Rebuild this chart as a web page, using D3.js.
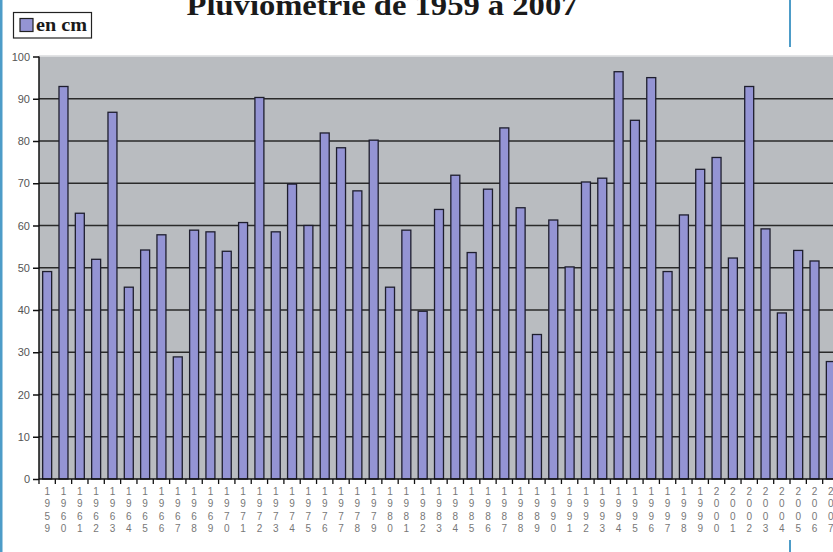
<!DOCTYPE html>
<html>
<head>
<meta charset="utf-8">
<script src="https://cdn.jsdelivr.net/npm/d3@7"></script>
<style>
body{margin:0;background:#fff;overflow:hidden}
</style>
</head>
<body>
<div id="svg"></div>
<script>
// data
var years=[1959,1960,1961,1962,1963,1964,1965,1966,1967,1968,1969,1970,1971,1972,1973,1974,1975,1976,1977,1978,1979,1980,1981,1982,1983,1984,1985,1986,1987,1988,1989,1990,1991,1992,1993,1994,1995,1996,1997,1998,1999,2000,2001,2002,2003,2004,2005,2006,2007];
var rain=[49.1,92.9,62.9,52.0,86.8,45.4,54.2,57.8,28.9,58.9,58.5,53.9,60.7,90.3,58.5,69.8,60.0,81.9,78.4,68.2,80.2,45.4,58.9,39.7,63.8,71.9,53.6,68.6,83.1,64.2,34.2,61.3,50.2,70.3,71.2,96.4,84.9,95.0,49.1,62.5,73.3,76.1,52.3,92.9,59.2,39.3,54.1,51.6,27.8];
var yTicks=[0,10,20,30,40,50,60,70,80,90,100];
var title="Pluviométrie de 1959 à 2007";
var legendLabel="en cm";

var width=833, height=552;
var svg=d3.select("#svg").append("svg").attr("width",width).attr("height",height);

var plot={left:39,right:839,top:56.5,bottom:479};

var x=d3.scaleBand().domain(years).range([plot.left,plot.right]).paddingInner(0.45).paddingOuter(0.225);
var y=d3.scaleLinear().domain([0,100]).range([plot.bottom,plot.top]);

// page border lines (blue)
svg.append("rect").attr("x",0).attr("y",0).attr("width",2.5).attr("height",height).attr("fill","#4d9cc8");
svg.append("line").attr("x1",790).attr("x2",790).attr("y1",0).attr("y2",47).attr("stroke","#4d9cc8").attr("stroke-width",2);
svg.append("line").attr("x1",790).attr("x2",790).attr("y1",540).attr("y2",height).attr("stroke","#4d9cc8").attr("stroke-width",2);

// plot background
svg.append("rect")
.attr("x",plot.left).attr("y",plot.top)
.attr("width",plot.right-plot.left).attr("height",plot.bottom-plot.top)
.attr("fill","#b9bcc0");
svg.append("line").attr("x1",plot.left).attr("x2",plot.right).attr("y1",plot.top-0.5).attr("y2",plot.top-0.5)
.attr("stroke","#d8dadc").attr("stroke-width",1.5);

// gridlines
svg.selectAll(".grid").data(yTicks.filter(d=>d>0&&d<100)).enter().append("line")
.attr("class","grid")
.attr("x1",plot.left).attr("x2",plot.right)
.attr("y1",d=>y(d)).attr("y2",d=>y(d))
.attr("stroke","#2a2a2a").attr("stroke-width",1.5);

// bars
svg.selectAll(".bar").data(rain).enter().append("rect")
.attr("class","bar")
.attr("x",(d,i)=>x(years[i]))
.attr("y",d=>y(d))
.attr("width",x.bandwidth())
.attr("height",d=>plot.bottom-y(d))
.attr("fill","#9494d4")
.attr("stroke","#1e1e2e")
.attr("stroke-width",1.3);

// y axis
var yAxis=svg.append("g").attr("transform","translate("+plot.left+",0)")
.call(d3.axisLeft(y).tickValues(yTicks).tickSize(6).tickPadding(3));
yAxis.select(".domain").attr("stroke","#111").attr("stroke-width",1.5).attr("d","M0,"+plot.top+"V"+plot.bottom);
yAxis.selectAll(".tick line").attr("stroke","#111").attr("stroke-width",1.5);
yAxis.selectAll(".tick text").attr("fill","#555").style("font-family","Liberation Sans, Arial, sans-serif").style("font-size","11px");

// x axis line and ticks between bars
svg.append("line").attr("x1",plot.left).attr("x2",plot.right).attr("y1",plot.bottom).attr("y2",plot.bottom)
.attr("stroke","#111").attr("stroke-width",1.5);
svg.selectAll(".xtick").data(years).enter().append("line")
.attr("class","xtick")
.attr("x1",(d,i)=>plot.left+i*x.step()).attr("x2",(d,i)=>plot.left+i*x.step())
.attr("y1",plot.bottom).attr("y2",plot.bottom+5)
.attr("stroke","#111").attr("stroke-width",1.3);

// x labels, one digit per line
var xl=svg.selectAll(".xlab").data(years).enter().append("text")
.attr("class","xlab")
.attr("fill","#777")
.attr("text-anchor","middle")
.style("font-family","Liberation Sans, Arial, sans-serif")
.style("font-size","10px");
xl.each(function(d){
  var t=d3.select(this), cx=x(d)+x.bandwidth()/2;
  String(d).split("").forEach(function(c,k){
    t.append("tspan").attr("x",cx).attr("y",494.5+k*12.6).text(c);
  });
});

// title
svg.append("text")
.attr("x",382).attr("y",15)
.attr("text-anchor","middle")
.attr("textLength",391).attr("lengthAdjust","spacingAndGlyphs")
.style("font-family","Liberation Serif, Times New Roman, serif")
.style("font-weight","bold").style("font-size","29px")
.attr("fill","#1a1a1a")
.text(title);

// legend
var lg=svg.append("g");
lg.append("rect").attr("x",13.5).attr("y",12.5).attr("width",78).attr("height",25.5)
.attr("fill","#fff").attr("stroke","#222").attr("stroke-width",1.2);
lg.append("rect").attr("x",20).attr("y",18.5).attr("width",13).attr("height",13)
.attr("fill","#9494d4").attr("stroke","#222").attr("stroke-width",1.2);
lg.append("text").attr("x",36).attr("y",31)
.attr("textLength",51).attr("lengthAdjust","spacingAndGlyphs")
.style("font-family","Liberation Serif, Times New Roman, serif")
.style("font-size","19px").style("font-weight","600")
.attr("fill","#1a1a1a")
.text(legendLabel);
</script>
</body>
</html>
